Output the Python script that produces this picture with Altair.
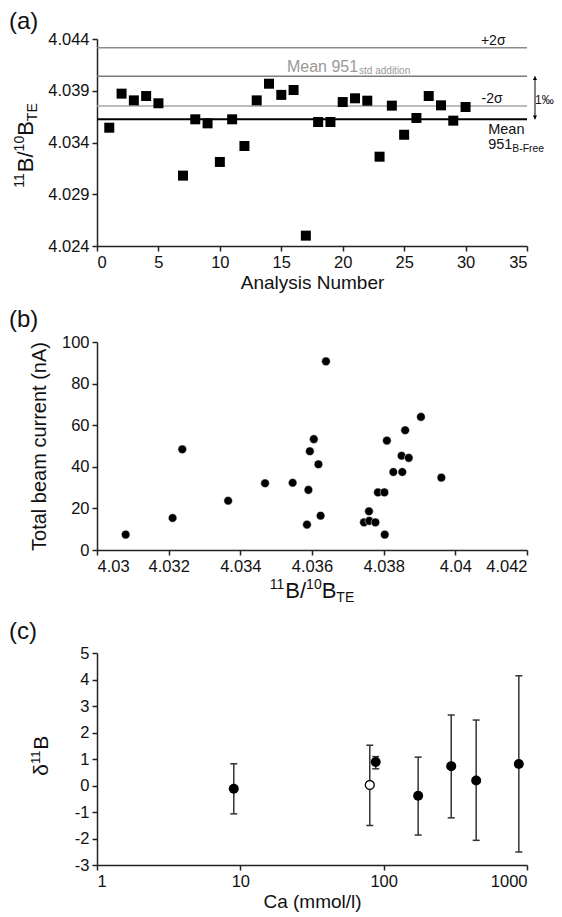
import altair as alt
import pandas as pd

FONT = "Liberation Sans"
INK = "#111111"

# ---------------- panel (a) data ----------------
analysis_n = [1, 2, 3, 4, 5, 7, 8, 9, 10, 11, 12, 13, 14, 15, 16, 17, 18, 19, 20,
              21, 22, 23, 24, 25, 26, 27, 28, 29, 30]
ratio_a = [4.03543, 4.03872, 4.03807, 4.03849, 4.03779, 4.03080, 4.03624, 4.03585,
           4.03212, 4.03624, 4.03366, 4.03807, 4.03968, 4.03860, 4.03907, 4.02500,
           4.03598, 4.03598, 4.03791, 4.03827, 4.03804, 4.03263, 4.03756, 4.03475,
           4.03637, 4.03849, 4.03759, 4.03611, 4.03743]
sigma_plus = 4.04316
mean_std_addition = 4.04040
sigma_minus = 4.03753
mean_b_free = 4.03624
ticks_a_x = [0, 5, 10, 15, 20, 25, 30, 35]
ticks_a_y = [4.024, 4.029, 4.034, 4.039, 4.044]

# ---------------- panel (b) data ----------------
ratio_b = [4.0308, 4.03211, 4.03238, 4.03366, 4.03469, 4.03546, 4.03639, 4.03605,
           4.03594, 4.03618, 4.0359, 4.03586, 4.03624, 4.03745, 4.03759, 4.0376,
           4.03777, 4.03803, 4.03784, 4.03802, 4.03809, 4.03827, 4.03852, 4.0385,
           4.0387, 4.0386, 4.03904, 4.03961]
current_b = [7.4, 15.4, 48.4, 23.7, 32.1, 32.3, 90.7, 53.3, 47.5, 41.2, 28.9, 12.2,
             16.5, 13.3, 18.6, 14.0, 13.3, 7.4, 27.7, 27.7, 52.6, 37.5, 37.5, 45.3,
             44.3, 57.6, 64.0, 34.8]
ticks_b_x = [4.03, 4.032, 4.034, 4.036, 4.038, 4.04, 4.042]
ticks_b_y = [0, 20, 40, 60, 80, 100]

# ---------------- panel (c) data ----------------
ca_mmol = [9, 80, 88, 174, 296, 442, 877]
d11b = [-0.12, 0.02, 0.89, -0.39, 0.73, 0.19, 0.81]
d11b_low = [-1.07, -1.51, 0.63, -1.87, -1.22, -2.07, -2.51]
d11b_high = [0.82, 1.52, 1.09, 1.07, 2.66, 2.47, 4.14]
open_marker = [False, True, False, False, False, False, False]
ticks_c_x = [1, 10, 100, 1000]
ticks_c_y = [-3, -2, -1, 0, 1, 2, 3, 4, 5]

# ---------------- helpers ----------------
WID = {c: 0.556 for c in "0123456789"}
WID.update({"B": .667, "/": .278, "T": .611, "E": .667, "δ": .556, "M": .833,
            "e": .556, "a": .556, "n": .556, " ": .278, "s": .5, "t": .278,
            "d": .556, "i": .222, "o": .556, "-": .333, "F": .611, "r": .333})


def tw(s, size):
    return sum(WID.get(c, .556) for c in s) * size


def ptext(s, x, y, size, color=INK, align="left", baseline="alphabetic", angle=0):
    return alt.Chart(pd.DataFrame({"t": [s]})).mark_text(
        align=align, baseline=baseline, fontSize=size, font=FONT, color=color,
        angle=angle
    ).encode(x=alt.value(x), y=alt.value(y), text="t:N")


def rich(segments, center, base, rotate=False):
    total = sum(tw(s, sz) for s, sz, sh in segments)
    out = []
    if rotate:
        cur = center + total / 2
        for s, sz, sh in segments:
            out.append(ptext(s, base + sh, cur, sz, angle=270))
            cur -= tw(s, sz)
    else:
        cur = center - total / 2
        for s, sz, sh in segments:
            out.append(ptext(s, cur, base + sh, sz))
            cur += tw(s, sz)
    return out


RATIO_SEGS = [("11", 14, -9), ("B/", 22, 0), ("10", 14, -9), ("B", 22, 0), ("TE", 14, 4)]
LBL_X = -88

# ---------------- panel (a) ----------------
W, HA, HB, HC = 430, 207, 208, 212

x_a = alt.X("n:Q", scale=alt.Scale(domain=[0, 35], nice=False, zero=False),
            axis=alt.Axis(values=ticks_a_x, title="Analysis Number", titlePadding=3))
y_a = alt.Y("r:Q", scale=alt.Scale(domain=[4.024, 4.044], nice=False, zero=False),
            axis=alt.Axis(values=ticks_a_y, format=".3f", title=None))


def hline(v, color, width):
    return alt.Chart(pd.DataFrame({"r": [v]})).mark_rule(
        color=color, strokeWidth=width).encode(y=y_a)


def atext(s, n, r, size, color=INK, dx=0, dy=0):
    return alt.Chart(pd.DataFrame({"n": [n], "r": [r], "t": [s]})).mark_text(
        align="left", baseline="alphabetic", fontSize=size, font=FONT,
        color=color, dx=dx, dy=dy).encode(x=x_a, y=y_a, text="t:N")


df_a = pd.DataFrame({"n": analysis_n, "r": ratio_a})
squares = alt.Chart(df_a).mark_square(size=100, color="#000", opacity=1).encode(x=x_a, y=y_a)

arrow_df = pd.DataFrame({"n": [35.65], "r": [mean_std_addition], "r2": [mean_b_free]})
arrow = alt.Chart(arrow_df).mark_rule(color="#000", strokeWidth=1).encode(
    x=x_a, y=y_a, y2="r2:Q")
head_top = alt.Chart(pd.DataFrame({"n": [35.65], "r": [mean_std_addition]})).mark_point(
    shape="triangle-up", filled=True, size=18, color="#000", opacity=1
).encode(x=x_a, y=y_a, yOffset=alt.value(2))
head_bot = alt.Chart(pd.DataFrame({"n": [35.65], "r": [mean_b_free]})).mark_point(
    shape="triangle-down", filled=True, size=18, color="#000", opacity=1
).encode(x=x_a, y=y_a, yOffset=alt.value(-2))

panel_a = alt.layer(
    hline(sigma_plus, "#8c8c8c", 1.5),
    hline(mean_std_addition, "#7a7a7a", 1.5),
    hline(sigma_minus, "#a6a6a6", 1.5),
    hline(mean_b_free, "#000000", 2),
    squares,
    atext("+2σ", 31.25, sigma_plus, 14, dy=-2.5),
    atext("Mean 951", 15.46, mean_std_addition, 16, color="#999999", dy=-4.6),
    atext("std addition", 15.46, mean_std_addition, 10, color="#999999",
          dx=tw("Mean 951", 16) + 1, dy=-2.3),
    atext("-2σ", 31.3, sigma_minus, 14, dy=-3),
    atext("Mean", 31.84, mean_b_free, 14.5, dy=15),
    atext("951", 31.84, mean_b_free, 14.5, dy=29.5),
    atext("B-Free", 31.84, mean_b_free, 10.4, dx=tw("951", 14.5), dy=32.7),
    arrow, head_top, head_bot,
    ptext("1‰", 438, 61, 12, baseline="middle"),
    ptext("(a)", LBL_X, -29, 24, baseline="top"),
    *rich(RATIO_SEGS, 106.5, -64, rotate=True),
).properties(width=W, height=HA)

# ---------------- panel (b) ----------------
x_b = alt.X("r:Q", scale=alt.Scale(domain=[4.03, 4.042], nice=False, zero=False),
            axis=alt.Axis(values=ticks_b_x, format=".3~f", title=None))
y_b = alt.Y("c:Q", scale=alt.Scale(domain=[0, 100], nice=False),
            axis=alt.Axis(values=ticks_b_y, title="Total beam current (nA)",
                          titleFontSize=20, titlePadding=12))
df_b = pd.DataFrame({"r": ratio_b, "c": current_b})
circles_b = alt.Chart(df_b).mark_circle(size=74, color="#000", opacity=1,
                                        stroke="#ffffff", strokeWidth=0.5).encode(x=x_b, y=y_b)
panel_b = alt.layer(
    circles_b,
    ptext("(b)", LBL_X, -33.7, 24, baseline="top"),
    *rich(RATIO_SEGS, W / 2, 256),
).properties(width=W, height=HB)

# ---------------- panel (c) ----------------
x_c = alt.X("ca:Q", scale=alt.Scale(type="log", domain=[1, 1000], nice=False),
            axis=alt.Axis(values=ticks_c_x, format="d", title="Ca (mmol/l)",
                          titlePadding=3))


def y_c(field):
    return alt.Y(f"{field}:Q", scale=alt.Scale(domain=[-3, 5], nice=False, zero=False),
                 axis=alt.Axis(values=ticks_c_y, labelExpr="'' + datum.value", title=None))


df_c = pd.DataFrame({"ca": ca_mmol, "d": d11b, "lo": d11b_low, "hi": d11b_high,
                     "open": open_marker})
bars = alt.Chart(df_c).mark_rule(color="#333333", strokeWidth=1.5).encode(
    x=x_c, y=y_c("lo"), y2="hi:Q")
cap_hi = alt.Chart(df_c).mark_point(shape="stroke", size=49, strokeWidth=1.5,
                                    color="#333333", opacity=1).encode(x=x_c, y=y_c("hi"))
cap_lo = alt.Chart(df_c).mark_point(shape="stroke", size=49, strokeWidth=1.5,
                                    color="#333333", opacity=1).encode(x=x_c, y=y_c("lo"))
filled_pts = alt.Chart(df_c[~df_c["open"]]).mark_circle(
    size=100, color="#000", opacity=1).encode(x=x_c, y=y_c("d"))
open_pts = alt.Chart(df_c[df_c["open"]]).mark_point(
    shape="circle", filled=True, fill="#ffffff", stroke="#000000", strokeWidth=1.3,
    size=80, opacity=1).encode(x=x_c, y=y_c("d"))

panel_c = alt.layer(
    bars, cap_hi, cap_lo, filled_pts, open_pts,
    ptext("(c)", LBL_X, -33, 24, baseline="top"),
    *rich([("δ", 21, 0), ("11", 13, -8), ("B", 21, 0)], 102.7, -49, rotate=True),
).properties(width=W, height=HC)

chart = alt.vconcat(panel_a, panel_b, panel_c, spacing=15).properties(
    padding={"left": 1, "top": 2, "right": 0, "bottom": 0}
).configure_axis(
    labelFont=FONT, labelFontSize=16.5, labelColor=INK, labelPadding=3,
    titleFont=FONT, titleFontSize=19, titleFontWeight="normal", titleColor=INK,
    domainColor="#222222", domainWidth=1.5, tickColor="#222222", tickWidth=1.5,
    tickSize=5, grid=False
).configure_view(stroke=None)

chart.save("out.html", embed_options={"renderer": "svg", "actions": False})
